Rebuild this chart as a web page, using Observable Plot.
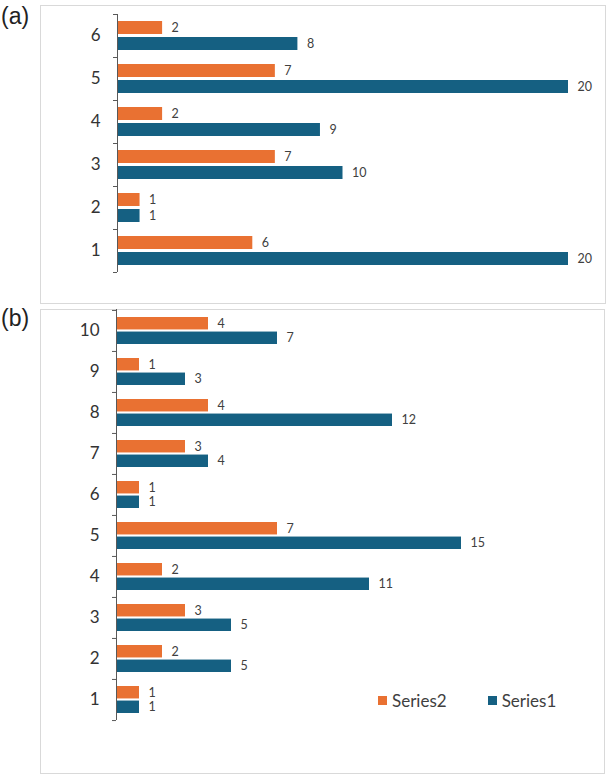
<!DOCTYPE html>
<html><head><meta charset="utf-8">
<script src="https://cdn.jsdelivr.net/npm/d3@7"></script>
<script src="https://cdn.jsdelivr.net/npm/@observablehq/plot@0.6"></script>
<style>
body{margin:0;background:#fff;}
#wrap{position:relative;width:608px;height:776px;overflow:hidden;font-family:Lato,sans-serif;background:#fff;}
.box{position:absolute;border:1px solid #d9d9d9;box-sizing:border-box;}
.panel{position:absolute;left:0;}
.tag{position:absolute;left:1px;font-family:"Liberation Sans",Arial,sans-serif;font-size:23px;color:#222;line-height:1;}
.legend{position:absolute;top:690px;left:378px;display:flex;align-items:center;font-family:Lato,sans-serif;font-size:17px;color:#404040;}
.legend .item{display:flex;align-items:center;margin-right:41px;}
.legend .sw{width:9px;height:9px;margin-right:5px;}
</style>
</head><body>
<div id="wrap">
  <div class="box" style="left:40px;top:5px;width:566px;height:299px;"></div>
  <div class="box" style="left:40px;top:309px;width:565px;height:465px;"></div>
  <div class="tag" style="top:5px;">(a)</div>
  <div class="tag" style="top:307px;">(b)</div>
  <div id="pa" class="panel" style="top:0px;"></div>
  <div id="pb" class="panel" style="top:303px;"></div>
  <div id="legend" class="legend"></div>
</div>
<script>
// Panel (a)
const catsA = ["1","2","3","4","5","6"];
const series1A = [20, 1, 10, 9, 20, 8];
const series2A = [6, 1, 7, 2, 7, 2];
// Panel (b)
const catsB = ["1","2","3","4","5","6","7","8","9","10"];
const series1B = [1, 5, 5, 11, 15, 1, 4, 12, 3, 7];
const series2B = [1, 2, 3, 2, 7, 1, 3, 4, 1, 4];
// Legend
const seriesNames = ["Series2", "Series1"];
const seriesColors = ["#E97132", "#156082"];

function panel({cats, s1, s2, height, marginLeft, marginRight, marginTop, marginBottom, gap, xMax}) {
  const s2d = cats.map((c, i) => ({cat: c, series: "Series2", value: s2[i]}));
  const s1d = cats.map((c, i) => ({cat: c, series: "Series1", value: s1[i]}));
  const step = (height - marginTop - marginBottom) / cats.length;
  const pad = 7;
  const h = (step - 2 * pad - gap) / 2;
  const off = step / 2 - pad - h / 2;
  const domain = cats.slice().reverse();
  return Plot.plot({
    width: 608, height, marginLeft, marginRight, marginTop, marginBottom,
    style: {background: "transparent", overflow: "visible", fontFamily: "Lato, sans-serif", color: "#404040"},
    x: {domain: [0, xMax], axis: null},
    y: {domain, padding: 0, label: null},
    color: {domain: seriesNames, range: seriesColors},
    marks: [
      Plot.barX(s2d, {x: "value", y: "cat", fill: "series", insetTop: pad, insetBottom: step - pad - h}),
      Plot.barX(s1d, {x: "value", y: "cat", fill: "series", insetTop: pad + h + gap, insetBottom: pad}),
      Plot.text(s2d, {x: "value", y: "cat", text: "value", dx: 9, dy: -off, textAnchor: "start", fontSize: 12.5, fill: "#404040"}),
      Plot.text(s1d, {x: "value", y: "cat", text: "value", dx: 9, dy: off, textAnchor: "start", fontSize: 12.5, fill: "#404040"}),
      Plot.ruleX([0], {stroke: "#595959"}),
      Plot.axisY({tickSize: 0, tickPadding: 17, fontSize: 17, fill: "#333", label: null}),
      Plot.axisY({tickSize: 4, tickFormat: () => "", dy: -step / 2, stroke: "#595959", label: null}),
      Plot.axisY([cats[0]], {tickSize: 4, tickFormat: () => "", dy: step / 2, stroke: "#595959", label: null})
    ]
  });
}

document.getElementById("pa").append(panel({
  cats: catsA, s1: series1A, s2: series2A,
  height: 303, marginLeft: 117, marginRight: 40, marginTop: 14, marginBottom: 31, gap: 3, xMax: 20
}));
document.getElementById("pb").append(panel({
  cats: catsB, s1: series1B, s2: series2B,
  height: 473, marginLeft: 116, marginRight: 32, marginTop: 6, marginBottom: 56, gap: 2, xMax: 20
}));

const leg = document.getElementById("legend");
seriesNames.forEach((name, i) => {
  const item = document.createElement("div");
  item.className = "item";
  const sw = document.createElement("div");
  sw.className = "sw";
  sw.style.background = seriesColors[i];
  const t = document.createElement("span");
  t.textContent = name;
  item.append(sw, t);
  leg.append(item);
});
</script>
</body></html>
